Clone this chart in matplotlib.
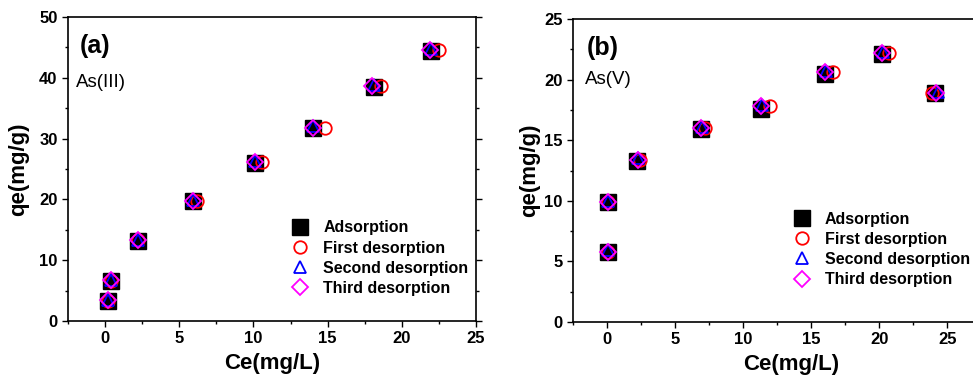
import matplotlib
matplotlib.use('Agg')
import matplotlib.pyplot as plt

plt.rcParams['font.family'] = ['Liberation Sans', 'DejaVu Sans']

# (a) As(III)
a_ads_x = [0.2, 0.4, 2.2, 5.9, 10.1, 14.0, 18.1, 22.0]
a_ads_y = [3.3, 6.6, 13.2, 19.7, 26.0, 31.7, 38.5, 44.4]
a_d1_x = [0.2, 0.4, 2.2, 6.2, 10.6, 14.8, 18.6, 22.5]
a_d1_y = [3.3, 6.6, 13.3, 19.8, 26.2, 31.8, 38.7, 44.6]
a_d2_x = [0.2, 0.4, 2.2, 5.9, 10.1, 14.0, 18.1, 22.0]
a_d2_y = [3.4, 6.7, 13.4, 19.9, 26.3, 32.0, 38.8, 44.7]
a_d3_x = [0.2, 0.4, 2.2, 5.9, 10.1, 14.0, 18.0, 21.9]
a_d3_y = [3.4, 6.7, 13.3, 19.8, 26.2, 31.8, 38.6, 44.5]

# (b) As(V)
b_ads_x = [0.1, 0.1, 2.2, 6.9, 11.3, 16.0, 20.2, 24.1]
b_ads_y = [5.8, 9.9, 13.3, 15.9, 17.6, 20.5, 22.1, 18.9]
b_d1_x = [0.1, 0.1, 2.4, 7.2, 12.0, 16.6, 20.7, 23.9]
b_d1_y = [5.8, 9.9, 13.4, 16.0, 17.8, 20.6, 22.2, 18.9]
b_d2_x = [0.1, 0.1, 2.3, 7.0, 11.4, 16.1, 20.3, 24.3]
b_d2_y = [5.9, 10.0, 13.5, 16.1, 17.9, 20.7, 22.3, 19.0]
b_d3_x = [0.1, 0.1, 2.3, 6.9, 11.3, 16.0, 20.2, 24.2]
b_d3_y = [5.8, 9.9, 13.4, 16.0, 17.8, 20.6, 22.2, 18.9]

labels = ['Adsorption', 'First desorption', 'Second desorption', 'Third desorption']

fig = plt.figure(figsize=(9.73, 3.76), dpi=100)
ax1 = fig.add_axes([68/973, 1-321/376, (476-68)/973, (321-17)/376])
ax2 = fig.add_axes([573/973, 1-322/376, (1010-573)/973, (322-19)/376])


def panel(ax, sx, sy, ylim, yticks, yminor, xlim, tag, species, tag_xy, sp_xy, leg_anchor):
    ax.plot(sx[0], sy[0], 's', color='black', ms=11.5, ls='none', label=labels[0])
    ax.plot(sx[1], sy[1], 'o', mfc='none', mec='red', mew=1.3, ms=9, ls='none', label=labels[1])
    ax.plot(sx[2], sy[2], '^', mfc='none', mec='blue', mew=1.3, ms=9, ls='none', label=labels[2])
    ax.plot(sx[3], sy[3], 'D', mfc='none', mec='magenta', mew=1.3, ms=8, ls='none', label=labels[3])
    ax.set_xlim(*xlim)
    ax.set_ylim(*ylim)
    ax.set_xticks([0, 5, 10, 15, 20, 25])
    ax.set_xticks([-2.5, 2.5, 7.5, 12.5, 17.5, 22.5], minor=True)
    ax.set_yticks(yticks)
    ax.set_yticks(yminor, minor=True)
    ax.tick_params(axis='both', which='major', direction='out', length=4, width=1,
                   labelsize=12)
    ax.tick_params(axis='both', which='minor', direction='out', length=2.5, width=1)
    ax.tick_params(axis='y', which='both', right=True, labelright=False)
    for lab in ax.get_xticklabels() + ax.get_yticklabels():
        lab.set_fontweight('bold')
    for sp in ax.spines.values():
        sp.set_linewidth(1.2)
    ax.set_xlabel('Ce(mg/L)', fontsize=16, fontweight='bold', labelpad=5)
    ax.set_ylabel('qe(mg/g)', fontsize=16, fontweight='bold')
    ax.text(tag_xy[0], tag_xy[1], tag, transform=ax.transAxes, fontsize=18,
            fontweight='bold', ha='left', va='center')
    ax.text(sp_xy[0], sp_xy[1], species, transform=ax.transAxes, fontsize=13.5,
            ha='left', va='center')
    ax.legend(loc='upper left', bbox_to_anchor=leg_anchor, frameon=False,
              prop={'weight': 'bold', 'size': 11.5}, handletextpad=0.7,
              labelspacing=0.32, borderpad=0, handlelength=1.5)


panel(ax1, [a_ads_x, a_d1_x, a_d2_x, a_d3_x], [a_ads_y, a_d1_y, a_d2_y, a_d3_y],
      (0, 50), [0, 10, 20, 30, 40, 50], [5, 15, 25, 35, 45], (-2.5, 25),
      '(a)', 'As(III)', (0.03, 0.905), (0.02, 0.785), (0.52, 0.357))
panel(ax2, [b_ads_x, b_d1_x, b_d2_x, b_d3_x], [b_ads_y, b_d1_y, b_d2_y, b_d3_y],
      (0, 25), [0, 5, 10, 15, 20, 25], [2.5, 7.5, 12.5, 17.5, 22.5], (-2.5, 29.6),
      '(b)', 'As(V)', (0.032, 0.905), (0.027, 0.8), (0.478, 0.39))
ax1.yaxis.set_label_coords(-0.095, 0.5)
ax2.yaxis.set_label_coords(-0.075, 0.5)

fig.savefig('out.png', dpi=100)
